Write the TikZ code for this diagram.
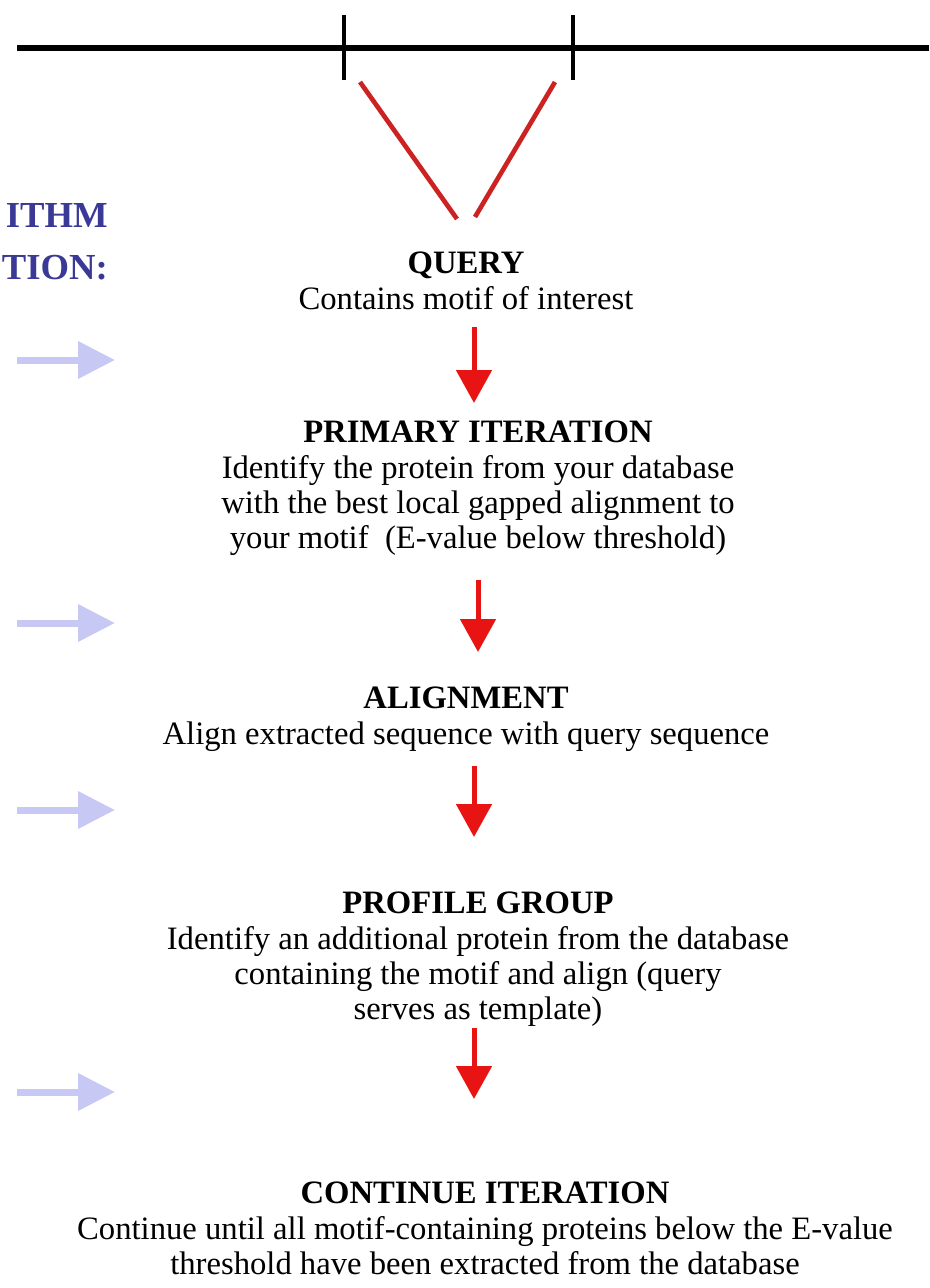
\documentclass[tikz,border=0pt]{standalone}
\usepackage{fontspec}
\setmainfont{Liberation Serif}
\usetikzlibrary{arrows.meta}
\definecolor{vred}{HTML}{CC2222}
\definecolor{ared}{HTML}{E81414}
\definecolor{lblue}{HTML}{C8C8F4}
\definecolor{navy}{HTML}{3A3A96}
\tikzset{
  txt/.style={anchor=north, inner sep=0pt, align=center, font=\fontsize{24.5}{26.5}\selectfont},
  side/.style={anchor=north east, inner sep=0pt, align=right, text=navy, font=\fontsize{27.5}{39}\selectfont\bfseries},
  redarrow/.style={draw=ared, line width=3.75pt, -{Triangle[length=24.75pt, width=26.25pt, fill=ared]}},
  bluearrow/.style={draw=lblue, line width=5.25pt, -{Triangle[length=27.75pt, width=27pt, fill=lblue]}},
  vline/.style={draw=vred, line width=3.5pt},
  axis/.style={draw=black, line width=4.5pt},
  tick/.style={draw=black, line width=3pt}
}
\begin{document}
\begin{tikzpicture}[x=0.75pt,y=-0.75pt]
\useasboundingbox (0,0) rectangle (929,1288);
% top line with ticks
\coordinate (ax1) at (17,48);
\coordinate (ax2) at (929,48);
\draw[axis] (ax1) -- (ax2);
\coordinate (t1a) at (344,15); \coordinate (t1b) at (344,80);
\coordinate (t2a) at (573,15); \coordinate (t2b) at (573,80);
\draw[tick] (t1a) -- (t1b);
\draw[tick] (t2a) -- (t2b);
% red V
\coordinate (v1a) at (360,82); \coordinate (v1b) at (457,219);
\coordinate (v2a) at (555,82); \coordinate (v2b) at (475,217);
\draw[vline] (v1a) -- (v1b);
\draw[vline] (v2a) -- (v2b);
% side labels
\node[side] (s1) at (108,203) {ITHM\\TION:};
% blocks
\node[txt] (query) at (466,252) {\textbf{QUERY}\\Contains motif of interest};
\node[txt] (primary) at (478,421) {\textbf{PRIMARY ITERATION}\\Identify the protein from your database\\with the best local gapped alignment to\\your motif\ \ (E-value below threshold)};
\node[txt] (align) at (466,687) {\textbf{ALIGNMENT}\\Align extracted sequence with query sequence};
\node[txt] (profile) at (478,892) {\textbf{PROFILE GROUP}\\Identify an additional protein from the database\\containing the motif and align (query\\serves as template)};
\node[txt] (cont) at (485,1182) {\textbf{CONTINUE ITERATION}\\Continue until all motif-containing proteins below the E-value\\threshold have been extracted from the database};
% red arrows
\coordinate (r1a) at (474,327); \coordinate (r1b) at (474,403);
\coordinate (r2a) at (478,580); \coordinate (r2b) at (478,652);
\coordinate (r3a) at (474,766); \coordinate (r3b) at (474,837);
\coordinate (r4a) at (474,1028); \coordinate (r4b) at (474,1099);
\draw[redarrow] (r1a) -- (r1b);
\draw[redarrow] (r2a) -- (r2b);
\draw[redarrow] (r3a) -- (r3b);
\draw[redarrow] (r4a) -- (r4b);
% blue arrows
\coordinate (b1a) at (17,360); \coordinate (b1b) at (115,360);
\coordinate (b2a) at (17,623); \coordinate (b2b) at (115,623);
\coordinate (b3a) at (17,810); \coordinate (b3b) at (115,810);
\coordinate (b4a) at (17,1092); \coordinate (b4b) at (115,1092);
\draw[bluearrow] (b1a) -- (b1b);
\draw[bluearrow] (b2a) -- (b2b);
\draw[bluearrow] (b3a) -- (b3b);
\draw[bluearrow] (b4a) -- (b4b);
\end{tikzpicture}
\end{document}
